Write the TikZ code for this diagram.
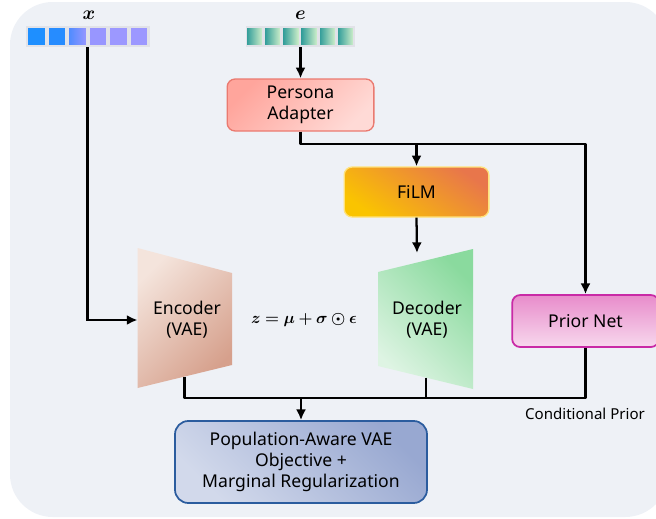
\documentclass[tikz,border=0pt]{standalone}
\usepackage{amsmath,bm}
\usepackage{fontspec}
\setsansfont{Noto Sans}
\usetikzlibrary{arrows.meta}

\definecolor{panelbg}{HTML}{EEF1F6}
\definecolor{tokframe}{HTML}{E1E2E8}
\definecolor{tokA}{HTML}{1E8FFF}
\definecolor{tokB}{HTML}{268CFF}
\definecolor{tokC}{HTML}{4E8CFF}
\definecolor{tokD}{HTML}{9896FF}
\definecolor{tokE}{HTML}{9C98FF}
\definecolor{embL}{HTML}{2C9A98}
\definecolor{embM}{HTML}{5DB46E}
\definecolor{embR}{HTML}{D3F1CB}

\begin{document}
\begin{tikzpicture}[x=0.75pt, y=-0.75pt,
    font=\sffamily\fontsize{13.2}{16}\selectfont,
    box/.style={rounded corners=6pt, align=center, line width=1pt,
        minimum width=110pt, minimum height=39pt},
    tok/.style={draw=tokframe, line width=0.8pt, inner sep=0pt},
    arr/.style={-{Latex[length=8pt,width=7.5pt]}, line width=1.7pt},
    wire/.style={line width=1.7pt, line join=round}]

    \clip (0,0) rectangle (656,518);
    \fill[panelbg, rounded corners=32pt] (10,2) rectangle (668,517);

    % input rows
    \node [fill=tokframe, minimum width=93pt, minimum height=16pt] (xrow) at (87.5,36.5) {};
    \node [tok, fill=tokA, minimum width=13.5pt, minimum height=13.5pt] (x1) at (36.5,36.5) {};
    \node [tok, fill=tokB, minimum width=13.5pt, minimum height=13.5pt] (x2) at (57,36.5) {};
    \node [tok, left color=tokC, right color=tokD, minimum width=13.5pt, minimum height=13.5pt] (x3) at (77.5,36.5) {};
    \node [tok, fill=tokD, minimum width=13.5pt, minimum height=13.5pt] (x4) at (98,36.5) {};
    \node [tok, fill=tokE, minimum width=13.5pt, minimum height=13.5pt] (x5) at (118.5,36.5) {};
    \node [tok, fill=tokE, minimum width=13.5pt, minimum height=13.5pt] (x6) at (139,36.5) {};
    \node [font=\fontsize{13.5}{16}\selectfont] (xlab) at (89,15) {$\bm{x}$};

    \node [fill=tokframe, minimum width=82pt, minimum height=16pt] (erow) at (300.5,36.5) {};
    \foreach \i/\cx in {1/254.5, 2/272.7, 3/290.9, 4/309.1, 5/327.3, 6/345.5}
        \node [tok, left color=embL, middle color=embM, right color=embR,
            minimum width=12.4pt, minimum height=13.9pt] (e\i) at (\cx,36.5) {};
    \node [font=\fontsize{13.5}{16}\selectfont] (elab) at (300.5,15) {$\bm{e}$};

    % blocks
    \node [box, draw={rgb,255:red,234;green,122;blue,112}, top color={rgb,255:red,255;green,165;blue,156},
        bottom color={rgb,255:red,255;green,218;blue,214}, shading angle=45] (pa) at (300.5,105) {Persona\\Adapter};
    \node [box, draw={rgb,255:red,255;green,226;blue,122}, top color={rgb,255:red,232;green,118;blue,75},
        middle color={rgb,255:red,229;green,168;blue,8}, bottom color={rgb,255:red,250;green,196;blue,0},
        shading angle=-35, minimum width=108.5pt, minimum height=37.5pt] (film) at (416.5,192) {FiLM};
    \node [box, draw={rgb,255:red,201;green,42;blue,166}, line width=1.3pt, top color={rgb,255:red,232;green,140;blue,203},
        bottom color={rgb,255:red,247;green,216;blue,237}] (prior) at (585.5,321) {Prior Net};
    \node [box, draw={rgb,255:red,43;green,92;blue,158}, line width=1.3pt, rounded corners=10pt,
        top color={rgb,255:red,152;green,168;blue,209}, bottom color={rgb,255:red,210;green,217;blue,235},
        shading angle=-45, minimum width=189pt, minimum height=61.5pt] (obj) at (301,462)
        {Population-Aware VAE\\Objective +\\Marginal Regularization};

    % encoder / decoder
    \shade [top color={rgb,255:red,244;green,228;blue,220}, bottom color={rgb,255:red,214;green,160;blue,140},
        shading angle=45] (137.5,248) -- (232,273) -- (232,365) -- (137.5,388) -- cycle;
    \shade [top color={rgb,255:red,138;green,218;blue,158}, bottom color={rgb,255:red,222;green,244;blue,227},
        shading angle=-45] (378,272) -- (473,249) -- (473,389) -- (378,366) -- cycle;
    \node [align=center] (enc) at (187,320) {Encoder\\(VAE)};
    \node [align=center] (dec) at (427,320) {Decoder\\(VAE)};
    \node [font=\fontsize{12.5}{14}\selectfont] (eq) at (304,320) {$\bm{z=\mu+\sigma\odot\epsilon}$};

    \coordinate (encin) at (137.5,320);
    \coordinate (encout) at (184.5,376.6);
    \coordinate (decin) at (417,253);
    \coordinate (decout) at (426,377.6);
    \coordinate (fork) at (film.north |- 0,144);
    \coordinate (bus) at (obj.north |- 0,398);

    % connectors
    \draw[arr] (xrow.south) |- (encin);
    \draw[arr] (erow.south) -- (pa.north);
    \draw[arr, line join=round] (pa.south) |- (fork -| prior.north) -- (prior.north);
    \draw[arr] (fork) -- (film.north);
    \draw[arr] (film.south) -- (decin);

    \draw[wire] (encout) |- (bus);
    \draw[wire] (decout) |- (bus);
    \draw[wire] (prior.south) |- (bus);
    \draw[arr] (bus) -- (obj.north);

    \node [font=\sffamily\fontsize{11.3}{13}\selectfont] (cond) at (585,414) {Conditional Prior};

\end{tikzpicture}
\end{document}
